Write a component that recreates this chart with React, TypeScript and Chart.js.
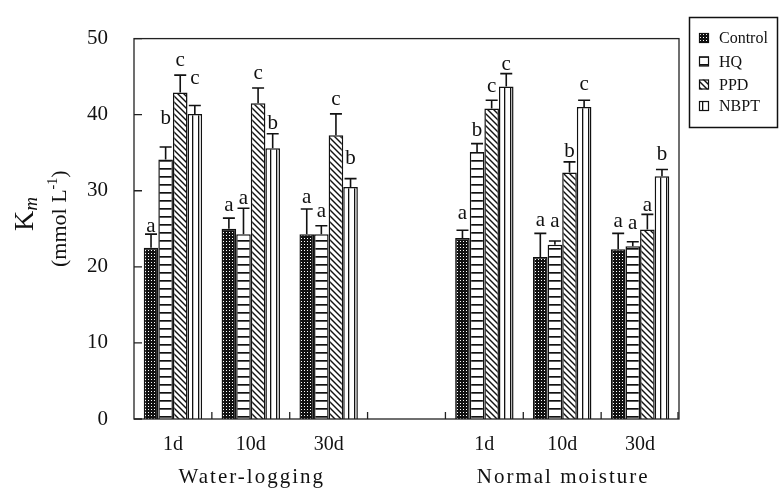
import React, { useEffect, useRef } from 'react';
import { Chart, registerables } from 'chart.js';

Chart.register(...registerables);

// ---------- data ----------
const categories = ['1d', '10d', '30d', '', '1d', '10d', '30d'];
const groupLabels = ['Water-logging', 'Normal moisture'];
const groupLabelCategory = [1, 5];
const seriesNames = ['Control', 'HQ', 'PPD', 'NBPT'];
const yTicks = [0, 10, 20, 30, 40, 50];

const controlValues = [22.5, 25.0, 24.3, null, 23.8, 21.3, 22.3];
const hqValues = [34.1, 24.3, 24.3, null, 35.1, 22.9, 22.7];
const ppdValues = [42.9, 41.5, 37.3, null, 40.8, 32.4, 24.9];
const nbptValues = [40.1, 35.6, 30.5, null, 43.7, 41.0, 31.9];

const controlErr = [1.8, 1.4, 3.3, null, 1.0, 3.1, 2.1];
const hqErr = [1.65, 3.4, 1.1, null, 1.1, 0.5, 0.6];
const ppdErr = [2.3, 2.0, 2.8, null, 1.1, 1.4, 2.0];
const nbptErr = [1.1, 1.9, 1.1, null, 1.7, 0.9, 0.9];

const controlLetters = ['a', 'a', 'a', '', 'a', 'a', 'a'];
const hqLetters = ['b', 'a', 'a', '', 'b', 'a', 'a'];
const ppdLetters = ['c', 'c', 'c', '', 'c', 'b', 'a'];
const nbptLetters = ['c', 'b', 'b', '', 'c', 'c', 'b'];

const controlLetterY = [24.6, 27.3, 28.4, null, 26.3, 25.4, 25.2];
const hqLetterY = [38.8, 28.3, 26.6, null, 37.2, 25.2, 25.0];
const ppdLetterY = [46.4, 44.7, 41.3, null, 43.0, 34.5, 27.3];
const nbptLetterY = [44.0, 38.1, 33.5, null, 45.9, 43.2, 34.1];

const allValues = [controlValues, hqValues, ppdValues, nbptValues];
const allErr = [controlErr, hqErr, ppdErr, nbptErr];
const allLetters = [controlLetters, hqLetters, ppdLetters, nbptLetters];
const allLetterY = [controlLetterY, hqLetterY, ppdLetterY, nbptLetterY];

const SERIF = '"Liberation Serif", "Times New Roman", serif';

function makePattern(ctx: CanvasRenderingContext2D, kind: string): CanvasPattern {
  const c = document.createElement('canvas');
  const g = c.getContext('2d')!;
  if (kind === 'control') {
    c.width = 3; c.height = 3;
    g.fillStyle = '#111';
    g.fillRect(0, 0, 3, 3);
    g.fillStyle = '#fff';
    g.fillRect(1, 1, 1, 1);
  } else if (kind === 'hq') {
    c.width = 8; c.height = 8;
    g.fillStyle = '#fff';
    g.fillRect(0, 0, 8, 8);
    g.fillStyle = '#111';
    g.fillRect(0, 0, 8, 1.7);
  } else if (kind === 'ppd') {
    c.width = 6; c.height = 6;
    g.fillStyle = '#fff';
    g.fillRect(0, 0, 6, 6);
    g.strokeStyle = '#111';
    g.lineWidth = 1.4;
    for (const o of [-6, 0, 6]) {
      g.beginPath();
      g.moveTo(o - 1, -1);
      g.lineTo(o + 7, 7);
      g.stroke();
    }
  } else {
    c.width = 6; c.height = 6;
    g.fillStyle = '#fff';
    g.fillRect(0, 0, 6, 6);
    g.fillStyle = '#111';
    g.fillRect(0, 0, 1.3, 6);
  }
  return ctx.createPattern(c, 'repeat')!;
}

export default function App() {
  const ref = useRef<HTMLCanvasElement>(null);

  useEffect(() => {
    document.body.style.margin = '0';
    const canvas = ref.current!;
    const ctx = canvas.getContext('2d')!;
    const patterns = [
      makePattern(ctx, 'control'),
      makePattern(ctx, 'hq'),
      makePattern(ctx, 'ppd'),
      makePattern(ctx, 'nbpt'),
    ];

    const decor = {
      id: 'decor',
      afterDatasetsDraw(chart: any) {
        const c = chart.ctx as CanvasRenderingContext2D;
        const ys = chart.scales.y;
        c.save();
        // error bars
        c.strokeStyle = '#111';
        c.lineWidth = 1.6;
        allValues.forEach((vals, i) => {
          const meta = chart.getDatasetMeta(i);
          vals.forEach((v, j) => {
            const e = allErr[i][j];
            if (v == null || e == null) return;
            const bar = meta.data[j];
            const x = bar.x;
            const y0 = ys.getPixelForValue(v);
            const y1 = ys.getPixelForValue(v + e);
            c.beginPath();
            c.moveTo(x, y0);
            c.lineTo(x, y1);
            c.moveTo(x - 6, y1);
            c.lineTo(x + 6, y1);
            c.stroke();
          });
        });
        // letters
        c.fillStyle = '#111';
        c.font = `21px ${SERIF}`;
        c.textAlign = 'center';
        c.textBaseline = 'alphabetic';
        allLetters.forEach((ls, i) => {
          const meta = chart.getDatasetMeta(i);
          ls.forEach((l, j) => {
            const ly = allLetterY[i][j];
            if (!l || ly == null) return;
            c.fillText(l, meta.data[j].x, ys.getPixelForValue(ly));
          });
        });
        c.restore();
      },
      afterDraw(chart: any) {
        const c = chart.ctx as CanvasRenderingContext2D;
        const { left, right, top, bottom } = chart.chartArea;
        const xs = chart.scales.x;
        const ys = chart.scales.y;
        c.save();
        // frame
        c.strokeStyle = '#222';
        c.lineWidth = 1.3;
        c.strokeRect(left, top, right - left, bottom - top);
        // y ticks (inward)
        c.beginPath();
        yTicks.forEach((t) => {
          const y = ys.getPixelForValue(t);
          c.moveTo(left, y);
          c.lineTo(left + 8, y);
        });
        // x ticks at category boundaries (inward)
        for (let k = 1; k <= categories.length; k++) {
          const x = k < categories.length
            ? (xs.getPixelForValue(k - 1) + xs.getPixelForValue(k)) / 2
            : right - 1;
          c.moveTo(x, bottom);
          c.lineTo(x, bottom - 7);
        }
        c.stroke();

        // group labels
        c.fillStyle = '#111';
        c.font = `21px ${SERIF}`;
        c.textAlign = 'center';
        c.textBaseline = 'middle';
        (c as any).letterSpacing = '2px';
        groupLabels.forEach((g, i) => {
          c.fillText(g, xs.getPixelForValue(groupLabelCategory[i]) + 1, 477);
        });
        (c as any).letterSpacing = '0px';

        // y axis title
        c.save();
        c.translate(33, 231);
        c.rotate(-Math.PI / 2);
        c.textAlign = 'left';
        c.textBaseline = 'alphabetic';
        c.font = `28px ${SERIF}`;
        c.fillText('K', 0, 0);
        const wK = c.measureText('K').width;
        c.font = `italic 19px ${SERIF}`;
        c.fillText('m', wK, 4);
        c.restore();

        c.save();
        c.translate(66, 267);
        c.rotate(-Math.PI / 2);
        c.textAlign = 'left';
        c.textBaseline = 'alphabetic';
        c.font = `22px ${SERIF}`;
        let px = 0;
        const part1 = '(mmol L';
        c.fillText(part1, px, 0);
        px += c.measureText(part1).width;
        c.font = `14px ${SERIF}`;
        c.fillText('-1', px, -9);
        px += c.measureText('-1').width;
        c.font = `22px ${SERIF}`;
        c.fillText(')', px, 0);
        c.restore();

        // legend
        c.strokeStyle = '#111';
        c.lineWidth = 1.5;
        c.strokeRect(689.5, 17.5, 88, 110);
        const itemY = [38, 61.5, 84.5, 106];
        c.font = `16px ${SERIF}`;
        c.textAlign = 'left';
        c.textBaseline = 'middle';
        seriesNames.forEach((n, i) => {
          const y = itemY[i];
          c.fillStyle = patterns[i];
          c.fillRect(699, y - 5, 10, 10);
          c.lineWidth = 1.2;
          c.strokeRect(699.5, y - 4.5, 9, 9);
          c.fillStyle = '#111';
          c.fillText(n, 719, y + 1);
        });
        c.restore();
      },
    };

    const chart = new Chart(canvas, {
      type: 'bar',
      data: {
        labels: categories,
        datasets: seriesNames.map((n, i) => ({
          label: n,
          data: allValues[i] as any,
          backgroundColor: patterns[i] as any,
          borderColor: '#111',
          borderWidth: 1.5,
          categoryPercentage: 0.75,
          barPercentage: 1.0,
        })),
      },
      options: {
        responsive: false,
        devicePixelRatio: 1,
        animation: false,
        layout: { padding: { left: 0, right: 101, top: 17, bottom: 0 } },
        plugins: {
          legend: { display: false },
          tooltip: { enabled: false },
        },
        scales: {
          x: {
            grid: { display: false, drawTicks: false },
            border: { display: false },
            ticks: {
              color: '#111',
              font: { family: SERIF, size: 20 },
              padding: 14,
              autoSkip: false,
              maxRotation: 0,
            },
            afterFit: (s: any) => { s.height = 80; },
          },
          y: {
            min: 0,
            max: 50,
            grid: { display: false, drawTicks: false },
            border: { display: false },
            ticks: {
              stepSize: 10,
              color: '#111',
              font: { family: SERIF, size: 21 },
              padding: 26,
            },
            afterFit: (s: any) => { s.width = 134; },
          },
        },
      },
      plugins: [decor],
    });

    return () => chart.destroy();
  }, []);

  return (
    <div style={{ width: 780, height: 499 }}>
      <canvas ref={ref} width={780} height={499} style={{ display: 'block', width: 780, height: 499 }} />
    </div>
  );
}
